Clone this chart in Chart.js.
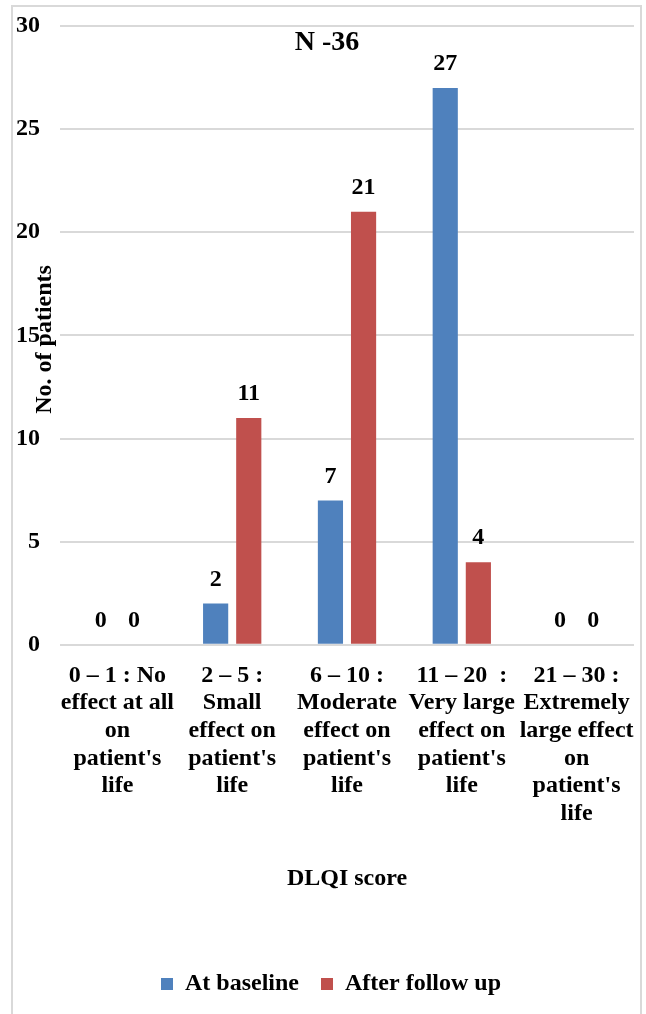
<!DOCTYPE html>
<html lang="en">
<head>
  <meta charset="UTF-8">
  <title>DLQI score</title>
  <script src="https://cdn.jsdelivr.net/npm/chart.js"></script>
  <style>
    html, body {
      margin: 0;
      padding: 0;
      background: #fff;
    }
    #wrap {
      position: relative;
      width: 646px;
      height: 1014px;
      overflow: hidden;
    }
    #frame {
      position: absolute;
      left: 11px;
      top: 5px;
      width: 631px;
      height: 1030px;
      border: 2px solid #d9d9d9;
      box-sizing: border-box;
    }
    canvas {
      position: absolute;
      left: 0;
      top: 0;
    }
  </style>
</head>
<body>
  <div id="wrap">
    <div id="frame"></div>
    <canvas id="dlqiChart" width="646" height="1014"></canvas>
  </div>

  <script>
    const categories = [
      ['0 – 1 : No', 'effect at all', 'on', "patient's", 'life'],
      ['2 – 5 :', 'Small', 'effect on', "patient's", 'life'],
      ['6 – 10 :', 'Moderate', 'effect on', "patient's", 'life'],
      ['11 – 20  :', 'Very large', 'effect on', "patient's", 'life'],
      ['21 – 30 :', 'Extremely', 'large effect', 'on', "patient's", 'life']
    ];
    const atBaseline = [0, 2, 7, 27, 0];
    const afterFollowUp = [0, 11, 21, 4, 0];
    const yMax = 30;
    const yStep = 5;

    const chartTitle = 'N -36';
    const xTitle = 'DLQI score';
    const yTitle = 'No. of patients';

    const serif = '"Liberation Serif", "Times New Roman", serif';

    // value labels, the "N -36" title and the y title drawn over the plot
    const overlayText = {
      id: 'overlayText',
      afterLayout(chart) {
        // legend sits a bit right of the canvas centre in the original
        chart.legend.left += 14;
        chart.legend.right += 14;
      },
      afterDatasetsDraw(chart) {
        const ctx = chart.ctx;
        const area = chart.chartArea;
        ctx.save();
        ctx.fillStyle = '#000';
        ctx.textAlign = 'center';
        ctx.textBaseline = 'middle';

        ctx.font = 'bold 24px ' + serif;
        chart.data.datasets.forEach((ds, i) => {
          chart.getDatasetMeta(i).data.forEach((bar, j) => {
            ctx.fillText(String(ds.data[j]), bar.x, bar.y - 24);
          });
        });

        ctx.font = 'bold 28px ' + serif;
        ctx.fillText(chartTitle, chart.width / 2 + 4, area.top + 17);

        ctx.font = 'bold 24px ' + serif;
        ctx.translate(area.left - 15, (area.top + area.bottom) / 2 + 4);
        ctx.rotate(-Math.PI / 2);
        ctx.fillText(yTitle, 0, 0);
        ctx.restore();
      }
    };

    const ctx = document.getElementById('dlqiChart').getContext('2d');
    new Chart(ctx, {
      type: 'bar',
      data: {
        labels: categories,
        datasets: [
          {
            label: 'At baseline',
            data: atBaseline,
            backgroundColor: '#4f81bd',
            categoryPercentage: 0.577,
            barPercentage: 0.76
          },
          {
            label: 'After follow up',
            data: afterFollowUp,
            backgroundColor: '#c0504d',
            categoryPercentage: 0.577,
            barPercentage: 0.76
          }
        ]
      },
      options: {
        responsive: false,
        animation: false,
        layout: {
          padding: { top: 26, right: 12, bottom: 8, left: 0 }
        },
        plugins: {
          legend: {
            position: 'bottom',
            labels: {
              boxWidth: 12,
              boxHeight: 12,
              padding: 22,
              color: '#000',
              font: { family: serif, size: 24, weight: 'bold' }
            }
          },
          tooltip: { enabled: false }
        },
        scales: {
          x: {
            grid: { display: false },
            border: { display: false },
            ticks: {
              color: '#000',
              padding: 9,
              maxRotation: 0,
              autoSkip: false,
              font: { family: serif, size: 24, weight: 'bold', lineHeight: 1.15 }
            },
            title: {
              display: true,
              text: xTitle,
              color: '#000',
              padding: { top: 29, bottom: 57 },
              font: { family: serif, size: 24, weight: 'bold', lineHeight: 1.15 }
            }
          },
          y: {
            min: 0,
            max: yMax,
            afterFit(scale) { scale.width = 60; },
            grid: {
              color: '#d9d9d9',
              lineWidth: 2,
              tickLength: 20,
              tickColor: 'rgba(0,0,0,0)'
            },
            border: { display: false },
            ticks: {
              stepSize: yStep,
              color: '#000',
              padding: 0,
              font: { family: serif, size: 24, weight: 'bold' }
            }
          }
        }
      },
      plugins: [overlayText]
    });
  </script>
</body>
</html>
